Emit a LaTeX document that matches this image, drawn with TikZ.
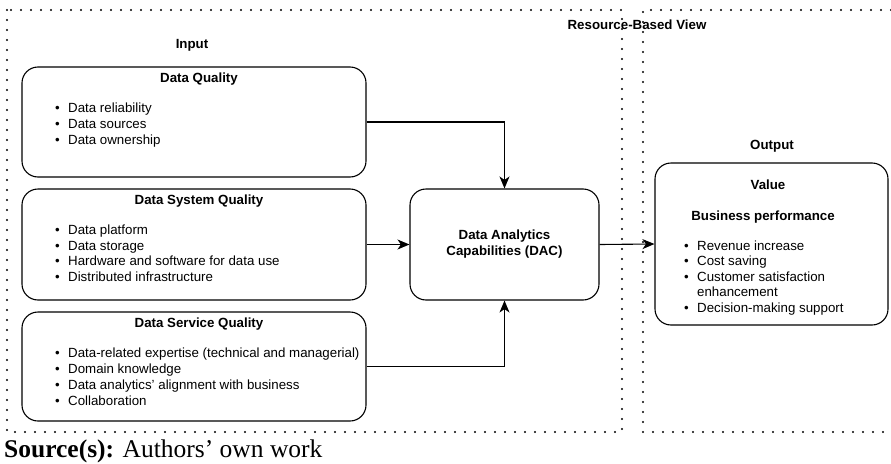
\documentclass[tikz,border=0pt]{standalone}
\usepackage{fontspec}
\setmainfont{Liberation Sans}
\newfontfamily\srcfont{Liberation Serif}
\usetikzlibrary{arrows.meta,positioning,calc}
\tikzset{
    region/.style={line width=2.4pt,dash pattern=on 0pt off 10pt,line cap=round},
    qbox/.style={draw,line width=1.1pt,rounded corners=16pt,minimum width=344pt},
    heading/.style={font=\bfseries\fontsize{13.3}{16}\selectfont},
    items/.style={font=\fontsize{13.3}{15.8}\selectfont,align=left,anchor=north west,inner sep=0pt},
    flow/.style={line width=1.1pt,-{Stealth[length=12pt,width=10pt,inset=3.5pt]}}
}
\newcommand{\itm}[1]{\makebox[13pt][l]{\textbullet}#1}

\begin{document}
\begin{tikzpicture}[x=1pt,y=-1pt]
\useasboundingbox (0,0) rectangle (891,463);
% resource-based view / output regions
\draw[region] (7,10) rectangle (622,432);
\draw[region] (891,10) -- (643,10) -- (643,432) -- (891,432);
\node[heading] (rbv) at (637,25) {Resource-Based View};
\node[heading] (input) at (192,45) {Input};
\node[heading] (output) at (772,146) {Output};
% input boxes
\node[qbox,minimum height=110pt] (dq) at (194,122) {};
\node[heading] (dqt) at (199,79) {Data Quality};
\node[items] (dql) at (55,103) {\itm{Data reliability}\\\itm{Data sources}\\\itm{Data ownership}};
\node[qbox,minimum height=111pt] (dsys) at (194,244.5) {};
\node[heading] (dsyst) at (199,201) {Data System Quality};
\node[items] (dsysl) at (55,224.5) {\itm{Data platform}\\\itm{Data storage}\\\itm{Hardware and software for data use}\\\itm{Distributed infrastructure}};
\node[qbox,minimum height=109pt] (dserv) at (194,366.5) {};
\node[heading] (dservt) at (199,324) {Data Service Quality};
\node[items] (dservl) at (55,348) {\itm{Data-related expertise (technical and managerial)}\\\itm{Domain knowledge}\\\itm{Data analytics’ alignment with business}\\\itm{Collaboration}};
% capabilities and value
\node[qbox,minimum width=189pt,minimum height=111pt,heading,align=center] (dac) at (504.5,244.5) {Data Analytics\\Capabilities (DAC)};
\node[qbox,minimum width=233pt,minimum height=162pt] (val) at (771.5,244) {};
\node[heading] (valt) at (768,185) {Value};
\node[heading] (bp) at (763,217) {Business performance};
\node[items,font=\fontsize{13.3}{15.5}\selectfont] (vall) at (684,240.2) {\itm{Revenue increase}\\\itm{Cost saving}\\\itm{Customer satisfaction}\\\hspace*{13pt}enhancement\\\itm{Decision-making support}};
% connectors
\draw[flow] (dq.east) -| (dac.north);
\draw[flow] (dsys.east) -- (dac.west);
\draw[flow] (dserv.east) -| (dac.south);
\draw[flow] (dac.east) -- (val.west);
\node[anchor=base west,inner sep=0pt,font=\srcfont\fontsize{25.5}{28}\selectfont] (src) at (4,457) {\textbf{Source(s):} Authors’ own work};
\end{tikzpicture}
\end{document}
